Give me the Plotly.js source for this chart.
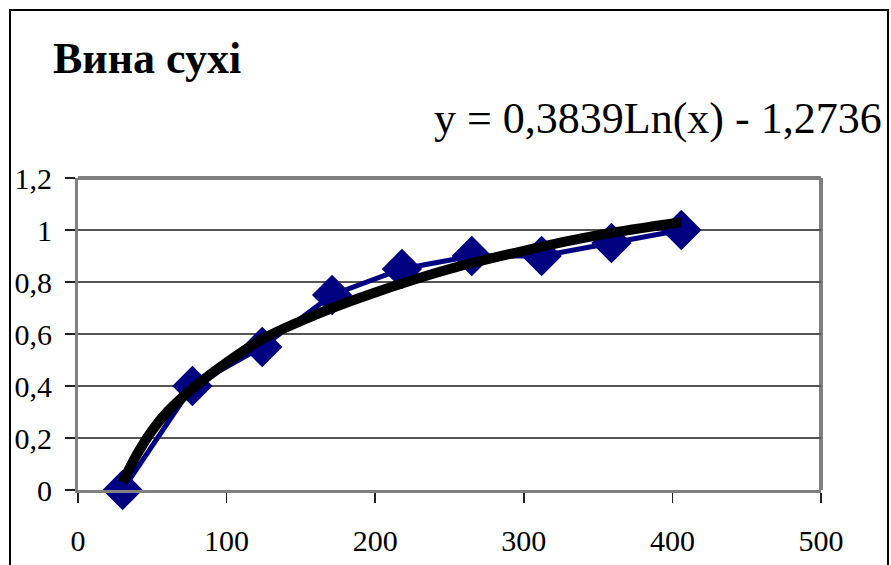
<!DOCTYPE html>
<html>
<head>
<meta charset="utf-8">
<script src="https://cdn.plot.ly/plotly-3.0.1.min.js"></script>
<style>
html,body{margin:0;padding:0;background:#fff;}
#chart{width:891px;height:565px;}
</style>
</head>
<body>
<div id="chart"></div>
<script>
// Data
const chartTitle = "Вина сухі";
const equationText = "y = 0,3839Ln(x) - 1,2736";
const xValues = [30, 77, 124, 171, 218, 265, 312, 359, 406];
const yValues = [0, 0.4, 0.55, 0.75, 0.85, 0.9, 0.9, 0.95, 1.0];
// trendline values
const trendX = [30, 40, 50, 60, 77, 100, 124, 150, 171, 200, 250, 300, 350, 406];
const trendY = [0.03, 0.14, 0.23, 0.30, 0.39, 0.49, 0.58, 0.65, 0.70, 0.76, 0.85, 0.92, 0.98, 1.03];
const xTicks = [0, 100, 200, 300, 400, 500];
const yTicks = [0, 0.2, 0.4, 0.6, 0.8, 1, 1.2];

const serif = 'Liberation Serif, Times New Roman, serif';

const W = 891, H = 565;
const L = 78, R = 70, T = 178, B = 75;
const pw = W - L - R, ph = H - T - B;
const px = v => (v - L) / pw;
const py = v => (H - B - v) / ph;

const traces = [
  {
    x: xValues, y: yValues, type: 'scatter', mode: 'lines+markers',
    line: {color: '#000080', width: 5},
    marker: {symbol: 'diamond', size: 31, color: '#000080'},
    cliponaxis: false, hoverinfo: 'skip'
  },
  {
    x: trendX, y: trendY, type: 'scatter', mode: 'lines',
    line: {color: '#000000', width: 10, shape: 'spline'},
    cliponaxis: false, hoverinfo: 'skip'
  }
];

const layout = {
  width: W, height: H,
  margin: {l: L, r: R, t: T, b: B, pad: 0},
  paper_bgcolor: '#ffffff', plot_bgcolor: '#ffffff',
  showlegend: false,
  separators: ', ',
  font: {family: serif, color: '#000000', size: 30},
  title: {
    text: '<b>' + chartTitle + '</b>',
    font: {family: serif, size: 44, color: '#000'},
    xref: 'container', yref: 'container',
    x: 53 / W, xanchor: 'left',
    y: 1 - 58 / H, yanchor: 'middle'
  },
  xaxis: {
    range: [0, 500], tickvals: xTicks, ticks: 'outside', ticklen: 10, tickwidth: 1.5, tickcolor: '#222',
    ticklabelstandoff: 12,
    showline: true, linecolor: '#808080', linewidth: 3,
    showgrid: false, zeroline: false,
    tickfont: {family: serif, size: 30, color: '#000'},
    fixedrange: true
  },
  yaxis: {
    range: [0, 1.2], tickvals: yTicks, ticks: 'outside', ticklen: 10, tickwidth: 1.5, tickcolor: '#222',
    ticklabelstandoff: 7,
    showline: true, linecolor: '#808080', linewidth: 3,
    showgrid: true, gridcolor: '#555555', gridwidth: 1.5,
    zeroline: false,
    tickfont: {family: serif, size: 30, color: '#000'},
    fixedrange: true
  },
  shapes: [
    {type: 'line', xref: 'paper', yref: 'paper', x0: 0, x1: 1, y0: 1, y1: 1, line: {color: '#808080', width: 4}, layer: 'below'},
    {type: 'line', xref: 'paper', yref: 'paper', x0: 1, x1: 1, y0: 0, y1: 1, line: {color: '#808080', width: 4}, layer: 'below'},
    {type: 'rect', xref: 'paper', yref: 'paper', x0: px(10), x1: px(888), y0: py(10), y1: py(580), line: {color: '#000', width: 2}, fillcolor: 'rgba(0,0,0,0)'}
  ],
  annotations: [
    {
      text: equationText, showarrow: false, xref: 'paper', yref: 'paper',
      x: px(884), xanchor: 'right', y: py(118), yanchor: 'middle',
      font: {family: serif, size: 44, color: '#000'}
    }
  ]
};

Plotly.newPlot('chart', traces, layout, {displayModeBar: false, staticPlot: true});
</script>
</body>
</html>
